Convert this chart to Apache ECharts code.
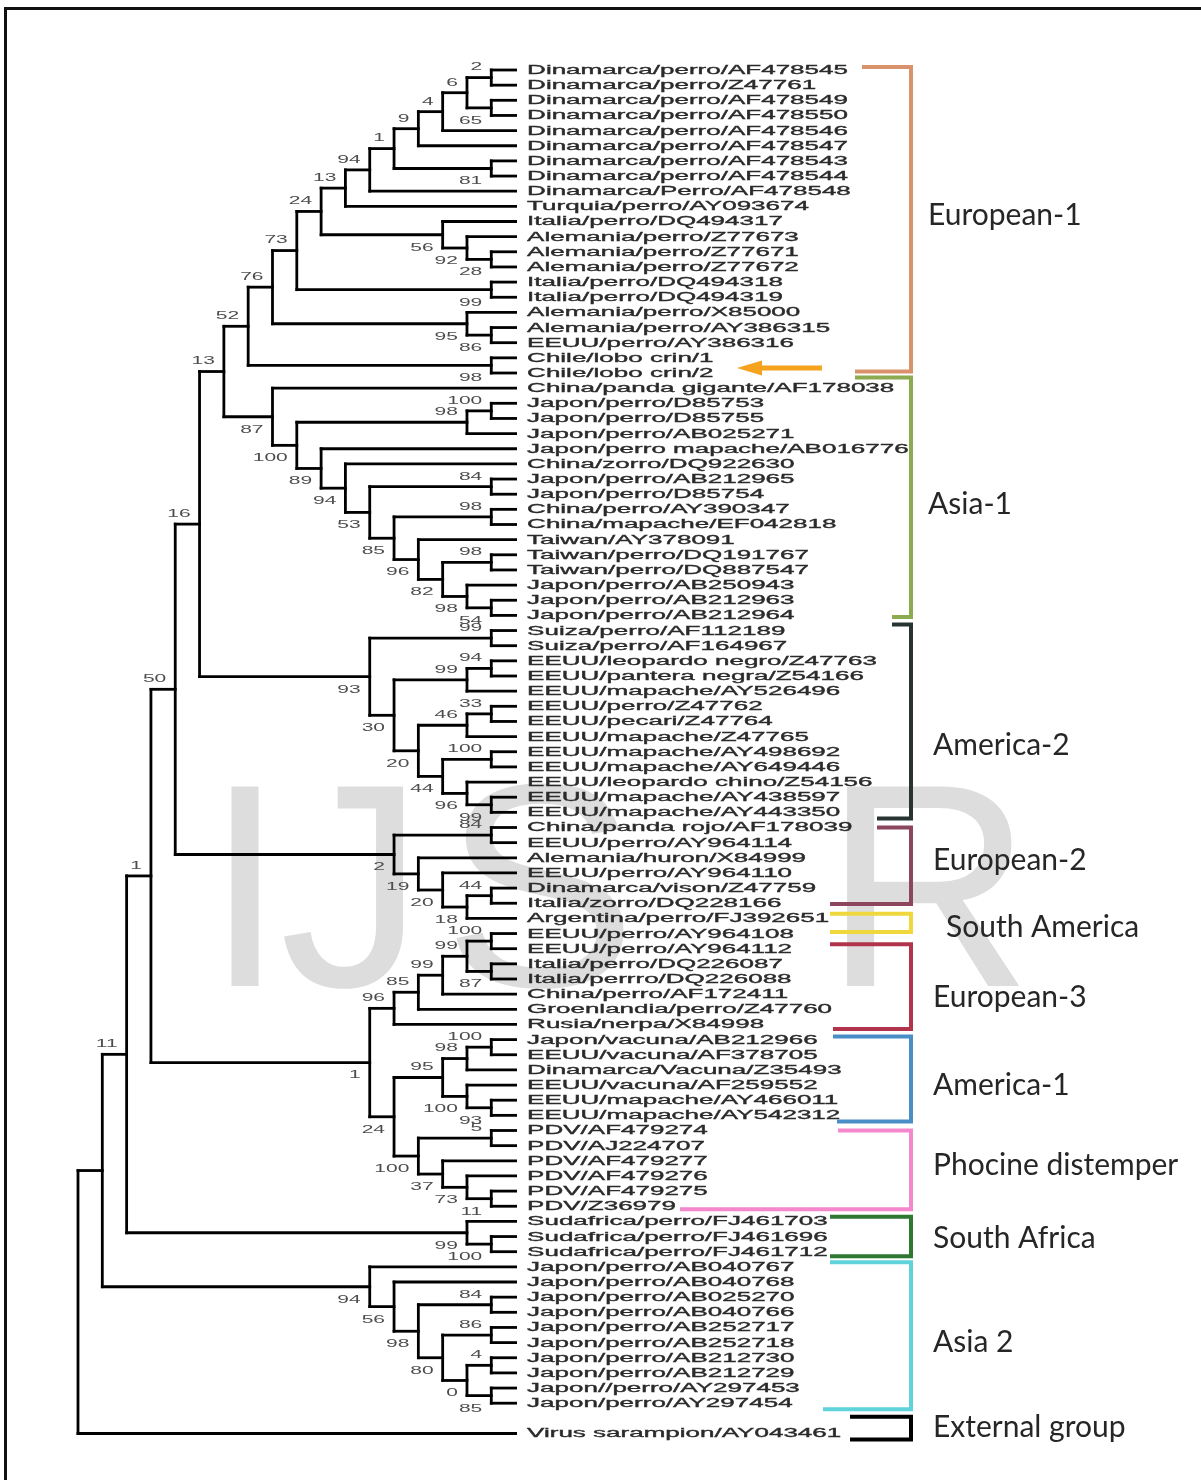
<!DOCTYPE html>
<html>
<head>
<meta charset="utf-8">
<script src="https://cdn.jsdelivr.net/npm/echarts/dist/echarts.min.js"></script>
<style>
  html, body { margin: 0; padding: 0; background: #fff; }
  #chart { width: 1201px; height: 1480px; }
</style>
</head>
<body>
<div id="chart"></div>
<script>
// sequences, top to bottom
const leaves = [
  'Dinamarca/perro/AF478545', 'Dinamarca/perro/Z47761', 'Dinamarca/perro/AF478549', 'Dinamarca/perro/AF478550', 'Dinamarca/perro/AF478546',
  'Dinamarca/perro/AF478547', 'Dinamarca/perro/AF478543', 'Dinamarca/perro/AF478544', 'Dinamarca/Perro/AF478548', 'Turquia/perro/AY093674',
  'Italia/perro/DQ494317', 'Alemania/perro/Z77673', 'Alemania/perro/Z77671', 'Alemania/perro/Z77672', 'Italia/perro/DQ494318',
  'Italia/perro/DQ494319', 'Alemania/perro/X85000', 'Alemania/perro/AY386315', 'EEUU/perro/AY386316', 'Chile/lobo crin/1',
  'Chile/lobo crin/2', 'China/panda gigante/AF178038', 'Japon/perro/D85753', 'Japon/perro/D85755', 'Japon/perro/AB025271',
  'Japon/perro mapache/AB016776', 'China/zorro/DQ922630', 'Japon/perro/AB212965', 'Japon/perro/D85754', 'China/perro/AY390347',
  'China/mapache/EF042818', 'Taiwan/AY378091', 'Taiwan/perro/DQ191767', 'Taiwan/perro/DQ887547', 'Japon/perro/AB250943',
  'Japon/perro/AB212963', 'Japon/perro/AB212964', 'Suiza/perro/AF112189', 'Suiza/perro/AF164967', 'EEUU/leopardo negro/Z47763',
  'EEUU/pantera negra/Z54166', 'EEUU/mapache/AY526496', 'EEUU/perro/Z47762', 'EEUU/pecari/Z47764', 'EEUU/mapache/Z47765',
  'EEUU/mapache/AY498692', 'EEUU/mapache/AY649446', 'EEUU/leopardo chino/Z54156', 'EEUU/mapache/AY438597', 'EEUU/mapache/AY443350',
  'China/panda rojo/AF178039', 'EEUU/perro/AY964114', 'Alemania/huron/X84999', 'EEUU/perro/AY964110', 'Dinamarca/vison/Z47759',
  'Italia/zorro/DQ228166', 'Argentina/perro/FJ392651', 'EEUU/perro/AY964108', 'EEUU/perro/AY964112', 'Italia/perro/DQ226087',
  'Italia/perrro/DQ226088', 'China/perro/AF172411', 'Groenlandia/perro/Z47760', 'Rusia/nerpa/X84998', 'Japon/vacuna/AB212966',
  'EEUU/vacuna/AF378705', 'Dinamarca/Vacuna/Z35493', 'EEUU/vacuna/AF259552', 'EEUU/mapache/AY466011', 'EEUU/mapache/AY542312',
  'PDV/AF479274', 'PDV/AJ224707', 'PDV/AF479277', 'PDV/AF479276', 'PDV/AF479275',
  'PDV/Z36979', 'Sudafrica/perro/FJ461703', 'Sudafrica/perro/FJ461696', 'Sudafrica/perro/FJ461712', 'Japon/perro/AB040767',
  'Japon/perro/AB040768', 'Japon/perro/AB025270', 'Japon/perro/AB040766', 'Japon/perro/AB252717', 'Japon/perro/AB252718',
  'Japon/perro/AB212730', 'Japon/perro/AB212729', 'Japon//perro/AY297453', 'Japon/perro/AY297454', 'Virus sarampion/AY043461'
];

// clades in newick, leaves by index, bootstrap as node label
const european1 = '(((((((((((0,1)2,(2,3)65)6,4)4,5)9,(6,7)81)1,8)94,9)13,(10,(11,(12,13)28)92)56)24,(14,15)99)73,(16,(17,18)86)95)76,(19,20)98)52';
const asia1 = '(21,(((22,23)100,24)98,(25,(26,((27,28)84,((29,30)98,(31,((32,33)98,(34,(35,36)54)98)82)96)85)53)94)89)100)87';
const america2 = '((37,38)99,(((39,40)94,41)99,(((42,43)33,44)46,((45,46)100,(47,(48,49)99)96)44)20)30)93';
const european2 = '((50,51)84,(52,(53,((54,55)44,56)18)20)19)2';
const european3 = '(((((57,58)100,(59,60)87)99,61)99,62)85,63)96';
const america1 = '(((64,65)100,66)98,(67,(68,69)93)100)95';
const phocine = '((70,71)5,(72,(73,(74,75)11)73)37)100';
const southAfrica = '(76,(77,78)100)99';
const asia2 = '(79,(80,((81,82)84,((83,84)86,((85,86)4,(87,88)85)0)80)98)56)94';
const treeNewick = `(((((((${european1},${asia1})13,${america2})16,${european2})50,(${european3},(${america1},${phocine})24)1)1,${southAfrica})11,${asia2}),89);`;

// bootstrap values printed under their node (span of leaves "first-last"); others sit above
const supportBelow = [
  '2-3', '6-7', '12-13', '11-13', '10-13', '14-15', '17-18', '16-18', '19-20',
  '22-36', '21-36', '25-36', '26-36', '27-36', '29-36', '31-36', '32-36', '34-36', '35-36',
  '37-49', '39-49', '42-49', '45-49', '47-49', '48-49',
  '50-56', '52-56', '53-56', '54-56',
  '59-60', '57-75', '64-75', '67-69', '68-69', '70-75', '72-75', '73-75', '74-75',
  '76-78', '77-78',
  '79-88', '80-88', '81-88', '83-88', '85-88', '87-88'
];

// clade brackets on the right (leaf rows they cover)
const groupNames = ['European-1', 'Asia-1', 'America-2', 'European-2', 'South America', 'European-3',
  'America-1', 'Phocine distemper', 'South Africa', 'Asia 2', 'External group'];
const groupRows = [[-0.2, 19.9], [20.3, 36.1], [36.6, 49.4], [50.0, 55.05], [55.7, 56.9], [57.7, 63.3],
  [63.8, 69.4], [70.0, 75.2], [75.7, 78.3], [78.7, 88.4], [88.9, 90.4]];
const groupLabelRow = [9.57, 28.7, 44.55, 52.15, 56.6, 61.2, 67.0, 72.3, 77.1, 83.96, 89.6];
const groupColors = ['#D9926C', '#8CAA50', '#283432', '#8C465F', '#F0D73C', '#B2344C',
  '#4A8EC8', '#F587CD', '#2E7832', '#5FD2DA', '#000000'];
const arrowRow = 19.67; // Chile/lobo crin

// bracket drawing layout (px)
const bracketRight = 911;
const bracketTopLeft = [862, 855, 892, 877, 830, 830, 833, 838, 830, 830, 850];
const bracketBotLeft = [855, 892, 877, 830, 830, 833, 837, 680, 830, 823, 850];
const groupLabelX = [928, 928, 933, 933, 946, 933, 933, 933, 933, 933, 933];

const leafRows = leaves.map((_, i) => (i === leaves.length - 1 ? i + 1 : i));

function parseNewick(s) {
  let i = 0;
  function node() {
    const n = { children: [] };
    if (s[i] === '(') {
      i++;
      n.children.push(node());
      while (s[i] === ',') { i++; n.children.push(node()); }
      i++;
    }
    let lab = '';
    while (i < s.length && !',();'.includes(s[i])) lab += s[i++];
    if (n.children.length) n.support = lab; else n.leaf = +lab;
    return n;
  }
  return node();
}

const tree = parseNewick(treeNewick);
const branches = [];
const supports = [];

function place(n) {
  if (!n.children.length) {
    n.level = 0; n.row = leafRows[n.leaf]; n.lo = n.hi = n.leaf;
    return;
  }
  n.children.forEach(place);
  const first = n.children[0], last = n.children[n.children.length - 1];
  n.level = Math.max(...n.children.map(c => c.level)) + 1;
  n.row = (first.row + last.row) / 2;
  n.lo = Math.min(...n.children.map(c => c.lo));
  n.hi = Math.max(...n.children.map(c => c.hi));
  branches.push([n.level, first.row, n.level, last.row]);
  n.children.forEach(c => branches.push([n.level, c.row, c.level, c.row]));
  if (n.support !== '') {
    supports.push([n.level, n.row, supportBelow.includes(n.lo + '-' + n.hi) ? 1 : 0, +n.support]);
  }
}
place(tree);

const chart = echarts.init(document.getElementById('chart'));

const option = {
  animation: false,
  backgroundColor: '#fff',
  grid: { left: 78, top: 70, width: 437.6, height: 1363.5 },
  xAxis: { type: 'value', min: 0, max: 18, inverse: true, show: false },
  yAxis: { type: 'value', min: 0, max: 90, inverse: true, show: false },
  graphic: [
    { type: 'line', z: 0, shape: { x1: 4, y1: 8.5, x2: 1201, y2: 8.5 }, style: { stroke: '#111', lineWidth: 3 } },
    { type: 'line', z: 0, shape: { x1: 5.5, y1: 7, x2: 5.5, y2: 1480 }, style: { stroke: '#111', lineWidth: 3 } },
    ...[['I', 245], ['J', 352], ['S', 540], ['R', 928]].map(([t, x]) => ({
      type: 'text', z: 0, x: x, y: 906,
      style: { text: t, font: '290px "Liberation Sans", Arial, sans-serif', fill: '#DDDDDD', align: 'center', verticalAlign: 'middle' }
    }))
  ],
  series: [
    {
      // branches
      type: 'custom',
      z: 3,
      data: branches,
      encode: { x: [0, 2], y: [1, 3] },
      renderItem: (params, api) => {
        const a = api.coord([api.value(0), api.value(1)]);
        const b = api.coord([api.value(2), api.value(3)]);
        return {
          type: 'line',
          shape: { x1: a[0], y1: a[1], x2: b[0], y2: b[1] },
          style: { stroke: '#000', lineWidth: 2.8, lineCap: 'square' }
        };
      }
    },
    {
      // sequence names
      type: 'custom',
      z: 4,
      data: leaves.map((_, i) => [0, leafRows[i]]),
      encode: { x: 0, y: 1 },
      renderItem: (params, api) => {
        const p = api.coord([api.value(0), api.value(1)]);
        return {
          type: 'text',
          x: p[0] + 11.5, y: p[1] + 0.5,
          scaleX: 2.08,
          style: {
            text: leaves[params.dataIndex],
            font: '12.5px "Liberation Sans", Arial, sans-serif',
            fill: '#2a2a2a', stroke: '#2a2a2a', lineWidth: 0.35,
            align: 'left', verticalAlign: 'middle'
          }
        };
      }
    },
    {
      // bootstrap values
      type: 'custom',
      z: 4,
      data: supports,
      encode: { x: 0, y: 1 },
      renderItem: (params, api) => {
        const p = api.coord([api.value(0), api.value(1)]);
        const below = api.value(2) === 1;
        return {
          type: 'text',
          x: p[0] - 9, y: p[1] + (below ? 13 : -10),
          scaleX: 2.0,
          style: {
            text: String(api.value(3)),
            font: '10.5px "Liberation Sans", Arial, sans-serif',
            fill: '#4d4d4d', align: 'right', verticalAlign: 'middle'
          }
        };
      }
    },
    {
      // clade brackets and names
      type: 'custom',
      z: 5,
      data: groupRows.map(r => [0, r[0], r[1]]),
      encode: { x: 0, y: [1, 2] },
      renderItem: (params, api) => {
        const i = params.dataIndex;
        const yTop = api.coord([0, api.value(1)])[1];
        const yBot = api.coord([0, api.value(2)])[1];
        const yLab = api.coord([0, groupLabelRow[i]])[1];
        return {
          type: 'group',
          children: [
            {
              type: 'polyline',
              shape: { points: [[bracketTopLeft[i], yTop], [bracketRight, yTop], [bracketRight, yBot], [bracketBotLeft[i], yBot]] },
              style: { stroke: groupColors[i], lineWidth: 4, fill: null, lineJoin: 'miter' }
            },
            {
              type: 'text',
              x: groupLabelX[i], y: yLab,
              style: {
                text: groupNames[i],
                font: '30px Lato, "Open Sans", sans-serif',
                fill: '#262626', align: 'left', verticalAlign: 'middle'
              }
            }
          ]
        };
      }
    },
    {
      // arrow at the Chilean maned wolf samples
      type: 'custom',
      z: 5,
      data: [[0, arrowRow]],
      encode: { x: 0, y: 1 },
      renderItem: (params, api) => {
        const y = api.coord([0, api.value(1)])[1];
        return {
          type: 'group',
          children: [
            { type: 'rect', shape: { x: 758, y: y - 2.5, width: 64, height: 5 }, style: { fill: '#F5A21F' } },
            { type: 'polygon', shape: { points: [[737, y], [762, y - 7.5], [762, y + 7.5]] }, style: { fill: '#F5A21F' } }
          ]
        };
      }
    }
  ]
};

chart.setOption(option);
</script>
</body>
</html>
